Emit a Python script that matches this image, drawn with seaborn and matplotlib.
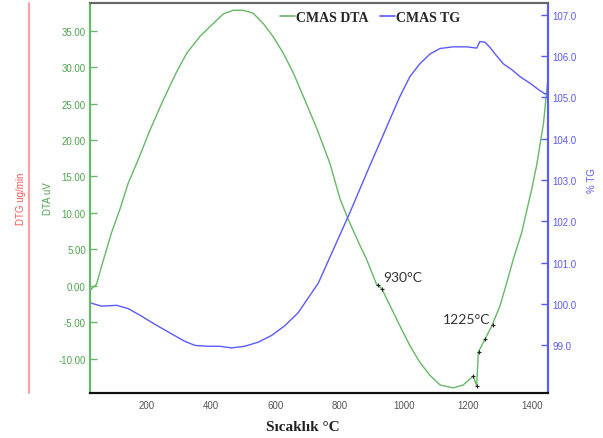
import numpy as np
import pandas as pd
import seaborn as sns
import matplotlib.pyplot as plt
from matplotlib.lines import Line2D

# DTA curve (left axis, uV)
dta_temp = [23, 43, 59, 90, 116, 142, 173, 209, 251, 292, 324, 365, 407, 438, 469, 500,
            531, 562, 593, 625, 656, 687, 729, 770, 801, 827, 864, 884, 915, 931, 957,
            988, 1019, 1050, 1082, 1113, 1154, 1185, 1216, 1227, 1232, 1253, 1274, 1300,
            1321, 1341, 1367, 1398, 1414, 1435, 1450]
dta_val = [-0.6, 0.2, 2.7, 7.3, 10.5, 14.1, 17.3, 21.3, 25.5, 29.3, 31.9, 34.2, 36.0, 37.3,
           37.8, 37.8, 37.4, 36.0, 34.2, 31.9, 29.2, 26.0, 21.6, 16.8, 12.0, 9.1, 5.5, 3.65,
           0.23, -0.36, -2.7, -5.5, -8.2, -10.5, -12.3, -13.6, -14.0, -13.6, -12.4, -13.7,
           -9.1, -7.3, -5.5, -2.7, 0.5, 3.65, 7.3, 13.2, 16.6, 22.3, 29.0]

# TG curve (right axis, %)
tg_temp = [23, 59, 106, 142, 183, 225, 277, 318, 350, 391, 427, 464, 505, 547, 588, 630,
           671, 713, 734, 832, 895, 926, 957, 988, 1019, 1050, 1082, 1113, 1154, 1196,
           1227, 1237, 1253, 1268, 1284, 1310, 1336, 1362, 1393, 1424, 1440, 1450]
tg_val = [100.03, 99.95, 99.97, 99.89, 99.71, 99.51, 99.28, 99.10, 99.00, 98.98, 98.98,
          98.94, 98.98, 99.08, 99.24, 99.48, 99.79, 100.27, 100.51, 102.21, 103.36, 103.91,
          104.47, 105.02, 105.50, 105.81, 106.05, 106.18, 106.22, 106.22, 106.19, 106.35,
          106.33, 106.21, 106.05, 105.81, 105.67, 105.50, 105.34, 105.16, 105.08, 105.10]

# small picked points on the DTA curve
pick_temp = [919, 931, 1216, 1227, 1234, 1253, 1277]
pick_val = [0.1, -0.4, -12.3, -13.7, -9.1, -7.3, -5.4]

left_ticks = [-10, -5, 0, 5, 10, 15, 20, 25, 30, 35]
right_ticks = [99, 100, 101, 102, 103, 104, 105, 106, 107]
x_ticks = [200, 400, 600, 800, 1000, 1200, 1400]

green = '#66b866'
green_txt = '#4fa24f'
blue = '#5a5aff'
red = '#ff5555'

dta = pd.DataFrame({'T': dta_temp, 'v': dta_val})
tg = pd.DataFrame({'T': tg_temp, 'v': tg_val})
picks = pd.DataFrame({'T': pick_temp, 'v': pick_val})

sns.set_theme(style='white')
plt.rcParams['font.family'] = ['Liberation Sans', 'DejaVu Sans']

fig = plt.figure(figsize=(6.03, 4.39), dpi=100)
ax = fig.add_axes([0.1493, 0.1025, 0.76, 0.8884])
ax2 = ax.twinx()

sns.lineplot(data=dta, x='T', y='v', ax=ax, color=green, lw=1.0, sort=False, estimator=None)
sns.scatterplot(data=picks, x='T', y='v', ax=ax, color='#222222', marker='+', s=12,
                linewidth=0.8, zorder=5)
sns.lineplot(data=tg, x='T', y='v', ax=ax2, color=blue, lw=1.0, sort=False, estimator=None)

ax.set_xlim(23, 1450)
ax.set_ylim(-14.7, 38.8)
ax2.set_ylim(97.85, 107.28)

ax.set_xticks(x_ticks)
ax.set_yticks(left_ticks)
ax.set_yticklabels([f'{t:.2f}' for t in left_ticks])
ax2.set_yticks(right_ticks)
ax2.set_yticklabels([f'{t:.1f}' for t in right_ticks])

ax.tick_params(axis='x', direction='in', length=4, width=1, color='#555555',
               labelsize=7, labelcolor='#555555', pad=5)
ax.tick_params(axis='y', direction='in', length=5, width=1, color=green,
               labelsize=7, labelcolor=green_txt, pad=3)
ax2.tick_params(axis='y', direction='in', length=5, width=1, color=blue,
                labelsize=7, labelcolor=blue, pad=3)

for a in (ax, ax2):
    a.spines['left'].set_color(green)
    a.spines['right'].set_color(blue)
    a.spines['bottom'].set_color('#111111')
    a.spines['top'].set_color('#666666')
    for s in a.spines.values():
        s.set_linewidth(1.5)

ax.set_ylabel('')
ax2.set_ylabel('')
ax.set_xlabel('Sıcaklık °C', fontfamily='Liberation Serif', fontweight='bold', fontsize=11,
              color='#222222')
ax.xaxis.set_label_coords(0.465, -0.07)

fig.text(48 / 603, 1 - 199 / 439, 'DTA uV', rotation=90, color=green_txt, fontsize=7,
         ha='center', va='center')
fig.text(21 / 603, 1 - 199 / 439, 'DTG ug/min', rotation=90, color=red, fontsize=7,
         ha='center', va='center')
fig.text(592 / 603, 1 - 181 / 439, '% TG', rotation=90, color=blue, fontsize=7,
         ha='center', va='center')
fig.add_artist(Line2D([29 / 603, 29 / 603], [1 - 4 / 439, 1 - 394 / 439],
                      color='#ff9f9f', lw=1.5, transform=fig.transFigure))

ax.text(936, 1.15, '930°C', fontsize=10, color='#333333', va='center', fontfamily='Lato')
ax.text(1121, -4.55, '1225°C', fontsize=10, color='#333333', va='center', fontfamily='Lato')

handles = [Line2D([], [], color=green, lw=1.2), Line2D([], [], color=blue, lw=1.2)]
leg = ax2.legend(handles, ['CMAS DTA', 'CMAS TG'], loc='center', bbox_to_anchor=(0.611, 0.962),
                 ncol=2, frameon=False, handlelength=1.1, handletextpad=0.1, columnspacing=0.8,
                 prop={'family': 'Liberation Serif', 'weight': 'bold', 'size': 10})

fig.savefig('out.png', dpi=100)
